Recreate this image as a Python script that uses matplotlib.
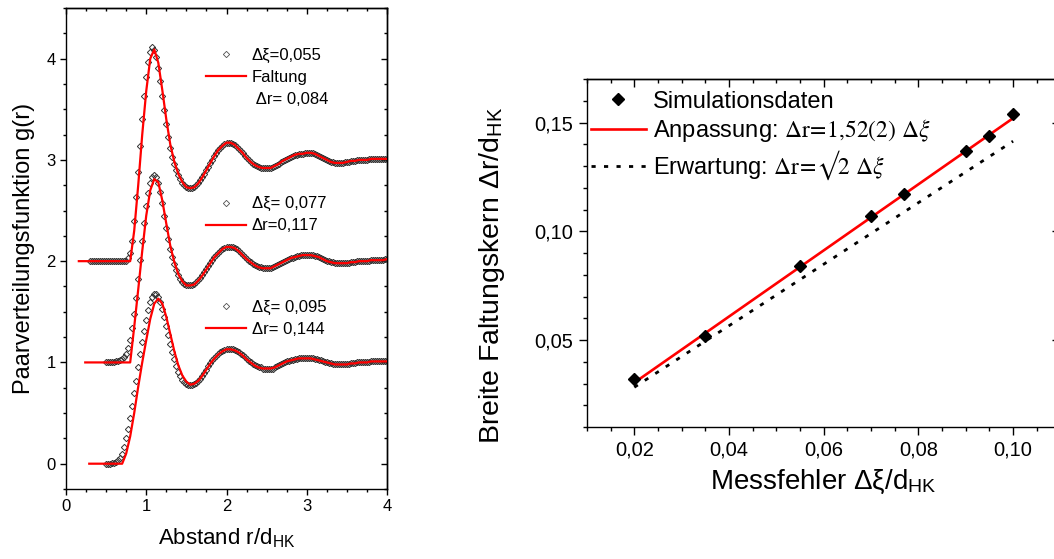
import numpy as np
import matplotlib
matplotlib.use("Agg")
import matplotlib.pyplot as plt
from matplotlib.ticker import MultipleLocator, FuncFormatter
from matplotlib.lines import Line2D
from matplotlib.legend import Legend

plt.rcParams['font.family'] = ['Liberation Sans', 'DejaVu Sans']
plt.rcParams['mathtext.fontset'] = 'stix'

# ---------------- left panel: pair distribution functions ----------------
# sampling grids of the simulation data (r / d_HK)
r_data_055 = np.round(np.arange(0.300, 4.0001, 0.025), 3)
r_data_077 = np.round(np.arange(0.500, 4.0001, 0.025), 3)
r_data_095 = np.round(np.arange(0.500, 4.0001, 0.025), 3)

g_data_055 = [0, 0, 0, 0, 0, 0, 0, 0, 0, 0, 0, 0, 0, 0, 0, 0, 0, 0,
              0.00, 0.03, 0.08, 0.20, 0.40, 0.63, 0.88, 1.14, 1.40, 1.63,
              1.82, 1.97, 2.07, 2.11, 2.09, 2.02, 1.91, 1.78, 1.63, 1.49,
              1.35, 1.23, 1.12, 1.03, 0.96, 0.90, 0.85, 0.81, 0.77, 0.75,
              0.73, 0.72, 0.72, 0.72, 0.73, 0.75, 0.77, 0.80, 0.83, 0.86,
              0.90, 0.93, 0.97, 1.00, 1.04, 1.07, 1.10, 1.12, 1.14, 1.16,
              1.17, 1.17, 1.17, 1.16, 1.15, 1.13, 1.11, 1.09, 1.07, 1.04,
              1.02, 1.00, 0.98, 0.96, 0.95, 0.94, 0.93, 0.92, 0.92, 0.92,
              0.92, 0.92, 0.92, 0.93, 0.94, 0.95, 0.96, 0.98, 0.99, 1.00,
              1.01, 1.02, 1.03, 1.04, 1.05, 1.05, 1.06, 1.06, 1.06, 1.07,
              1.07, 1.07, 1.07, 1.07, 1.06, 1.05, 1.04, 1.03, 1.02, 1.01,
              1.00, 0.99, 0.98, 0.98, 0.97, 0.97, 0.97, 0.97, 0.97, 0.98,
              0.98, 0.98, 0.99, 0.99, 0.99, 1.00, 1.00, 1.00, 1.00, 1.00,
              1.00, 1.01, 1.01, 1.01, 1.01, 1.01, 1.01, 1.01, 1.01, 1.01,
              1.01]

g_data_077 = [0, 0, 0, 0, 0, 0.01,
              0.01, 0.02, 0.03, 0.05, 0.08, 0.14, 0.22, 0.34, 0.48, 0.64,
              0.82, 1.01, 1.20, 1.38, 1.54, 1.67, 1.77, 1.83, 1.85, 1.83,
              1.77, 1.68, 1.57, 1.45, 1.33, 1.22, 1.12, 1.04, 0.97, 0.91,
              0.86, 0.82, 0.79, 0.77, 0.76, 0.76, 0.76, 0.76, 0.77, 0.79,
              0.81, 0.83, 0.86, 0.89, 0.92, 0.95, 0.98, 1.01, 1.04, 1.06,
              1.08, 1.10, 1.12, 1.13, 1.14, 1.14, 1.14, 1.14, 1.13, 1.12,
              1.10, 1.08, 1.06, 1.04, 1.02, 1.00, 0.99, 0.97, 0.96, 0.95,
              0.94, 0.94, 0.93, 0.93, 0.93, 0.93, 0.93, 0.94, 0.95, 0.96,
              0.97, 0.98, 0.99, 1.00, 1.01, 1.02, 1.03, 1.03, 1.04, 1.05,
              1.05, 1.06, 1.06, 1.06, 1.06, 1.06, 1.06, 1.06, 1.05, 1.05,
              1.04, 1.03, 1.02, 1.01, 1.00, 1.00, 0.99, 0.99, 0.98, 0.98,
              0.98, 0.98, 0.98, 0.98, 0.98, 0.98, 0.99, 0.99, 0.99, 1.00,
              1.00, 1.00, 1.00, 1.00, 1.00, 1.00, 1.01, 1.01, 1.01, 1.01,
              1.01, 1.01, 1.01, 1.02, 1.02]

g_data_095 = [0, 0, 0, 0.01, 0.01, 0.02,
              0.04, 0.06, 0.10, 0.16, 0.25, 0.34, 0.45, 0.57, 0.70, 0.82,
              0.95, 1.08, 1.20, 1.31, 1.42, 1.52, 1.60, 1.65, 1.68, 1.68,
              1.65, 1.60, 1.53, 1.45, 1.36, 1.27, 1.18, 1.10, 1.03, 0.96,
              0.91, 0.87, 0.83, 0.81, 0.79, 0.78, 0.78, 0.78, 0.79, 0.80,
              0.82, 0.84, 0.87, 0.90, 0.93, 0.96, 0.99, 1.02, 1.04, 1.06,
              1.08, 1.10, 1.11, 1.12, 1.13, 1.13, 1.13, 1.13, 1.12, 1.11,
              1.10, 1.08, 1.07, 1.05, 1.03, 1.01, 1.00, 0.98, 0.97, 0.96,
              0.95, 0.95, 0.94, 0.94, 0.94, 0.94, 0.94, 0.94, 0.95, 0.96,
              0.97, 0.98, 0.99, 1.00, 1.01, 1.01, 1.02, 1.02, 1.03, 1.03,
              1.04, 1.04, 1.04, 1.04, 1.04, 1.04, 1.04, 1.04, 1.03, 1.03,
              1.02, 1.02, 1.01, 1.00, 1.00, 0.99, 0.99, 0.98, 0.98, 0.98,
              0.98, 0.98, 0.98, 0.98, 0.98, 0.98, 0.99, 0.99, 0.99, 1.00,
              1.00, 1.00, 1.00, 1.00, 1.00, 1.00, 1.01, 1.01, 1.01, 1.01,
              1.01, 1.01, 1.01, 1.01, 1.01]

# convolution fits (red lines)
r_fit_055 = np.concatenate([[0.16], np.round(np.arange(0.80, 4.001, 0.05), 2)])
g_fit_055 = [0.0,
             0.00, 0.30, 0.75, 1.25, 1.68, 2.00, 2.09, 1.96, 1.69, 1.40,
             1.15, 0.98, 0.86, 0.78, 0.73, 0.72, 0.73, 0.77, 0.83, 0.90,
             0.97, 1.04, 1.10, 1.14, 1.17, 1.17, 1.15, 1.11, 1.07, 1.02,
             0.98, 0.95, 0.93, 0.92, 0.92, 0.92, 0.94, 0.96, 0.99, 1.01,
             1.03, 1.05, 1.06, 1.06, 1.07, 1.07, 1.06, 1.04, 1.02, 1.00,
             0.98, 0.97, 0.97, 0.97, 0.98, 0.99, 0.99, 1.00, 1.00, 1.00,
             1.01, 1.01, 1.01, 1.01, 1.01]

r_fit_077 = np.concatenate([[0.24], np.round(np.arange(0.80, 4.001, 0.05), 2)])
g_fit_077 = [0.0,
             0.00, 0.35, 0.72, 1.10, 1.45, 1.70, 1.81, 1.78, 1.60, 1.37,
             1.15, 0.99, 0.87, 0.80, 0.76, 0.76, 0.77, 0.81, 0.86, 0.92,
             0.98, 1.04, 1.08, 1.12, 1.14, 1.14, 1.13, 1.10, 1.06, 1.02,
             0.99, 0.96, 0.94, 0.93, 0.93, 0.93, 0.95, 0.97, 0.99, 1.01,
             1.03, 1.04, 1.05, 1.06, 1.06, 1.06, 1.05, 1.04, 1.02, 1.00,
             0.99, 0.98, 0.98, 0.98, 0.98, 0.99, 0.99, 1.00, 1.00, 1.00,
             1.01, 1.01, 1.01, 1.01, 1.02]

r_fit_095 = np.concatenate([[0.29], np.round(np.arange(0.70, 4.001, 0.05), 2)])
g_fit_095 = [0.0,
             0.00, 0.10,
             0.27, 0.50, 0.76, 1.00, 1.22, 1.43, 1.58, 1.63, 1.58, 1.45,
             1.28, 1.11, 0.97, 0.87, 0.81, 0.78, 0.79, 0.82, 0.87, 0.93,
             0.99, 1.04, 1.08, 1.11, 1.13, 1.13, 1.12, 1.10, 1.07, 1.03,
             1.00, 0.97, 0.95, 0.94, 0.94, 0.94, 0.95, 0.97, 0.99, 1.01,
             1.02, 1.03, 1.04, 1.04, 1.04, 1.04, 1.03, 1.02, 1.01, 1.00,
             0.99, 0.98, 0.98, 0.98, 0.98, 0.99, 0.99, 1.00, 1.00, 1.00,
             1.01, 1.01, 1.01, 1.01, 1.01]

offsets = [2, 1, 0]
data_labels = ["\u0394\u03be=0,055", "\u0394\u03be= 0,077", "\u0394\u03be= 0,095"]
fit_labels = [["Faltung", " \u0394r= 0,084"], ["\u0394r=0,117"], ["\u0394r= 0,144"]]

# ---------------- right panel: kernel width vs measurement error ----------------
dxi = [0.02, 0.035, 0.055, 0.07, 0.077, 0.09, 0.095, 0.10]
dr = [0.032, 0.052, 0.084, 0.107, 0.117, 0.137, 0.144, 0.154]
fit_slope = 1.52
expected_slope = np.sqrt(2)
line_range = [0.02, 0.10]

# ---------------- figure ----------------
fig = plt.figure(figsize=(10.54, 5.59), dpi=100)
axL = fig.add_axes([0.0626, 0.1252, 0.3046, 0.8605])
axR = fig.add_axes([0.5569, 0.2361, 0.4492, 0.6225])


def style_axes(ax, xmaj, xmin, ymaj, ymin, fmt, labelsize, majlen, minlen, pad):
    ax.xaxis.set_major_locator(MultipleLocator(xmaj))
    ax.xaxis.set_minor_locator(MultipleLocator(xmin))
    ax.yaxis.set_major_locator(MultipleLocator(ymaj))
    ax.yaxis.set_minor_locator(MultipleLocator(ymin))
    ax.xaxis.set_major_formatter(FuncFormatter(fmt))
    ax.yaxis.set_major_formatter(FuncFormatter(fmt))
    ax.tick_params(which='both', direction='out', top=False, right=False,
                   labelsize=labelsize, width=1.0, pad=pad)
    ax.tick_params(which='major', length=majlen)
    ax.tick_params(which='minor', length=minlen)
    for sp in ax.spines.values():
        sp.set_linewidth(1.0)
    sx = ax.secondary_xaxis('top')
    sx.xaxis.set_major_locator(MultipleLocator(xmaj))
    sx.xaxis.set_minor_locator(MultipleLocator(xmin))
    sx.tick_params(which='both', direction='in', labeltop=False, width=1.0)
    sx.tick_params(which='major', length=majlen)
    sx.tick_params(which='minor', length=minlen)
    sx.spines['top'].set_linewidth(1.0)
    sy = ax.secondary_yaxis('right')
    sy.yaxis.set_major_locator(MultipleLocator(ymaj))
    sy.yaxis.set_minor_locator(MultipleLocator(ymin))
    sy.tick_params(which='both', direction='in', labelright=False, width=1.0)
    sy.tick_params(which='major', length=majlen)
    sy.tick_params(which='minor', length=minlen)
    sy.spines['right'].set_linewidth(1.0)


marker_kw = dict(linestyle='none', marker='D', ms=3.2, mfc='none',
                 mec='#333333', mew=0.7)

# left panel curves
series = [(r_data_055, g_data_055, r_fit_055, g_fit_055),
          (r_data_077, g_data_077, r_fit_077, g_fit_077),
          (r_data_095, g_data_095, r_fit_095, g_fit_095)]
for (rd, gd, rf, gf), off in zip(series, offsets):
    axL.plot(rd, np.asarray(gd) + off, zorder=2, **marker_kw)
    axL.plot(rf, np.asarray(gf) + off, color='#ff0000', lw=1.6, zorder=3)

axL.set_xlim(0, 4)
axL.set_ylim(-0.25, 4.5)
style_axes(axL, 1, 0.25, 1, 0.25, lambda v, p: f"{v:g}", 12, 4.5, 2.5, 3)
axL.set_xlabel("Abstand r/d$_\\mathregular{HK}$", fontsize=16, labelpad=8)
axL.set_ylabel("Paarverteilungsfunktion g(r)", fontsize=17, labelpad=8)

# legends inside left panel
leg_marker_kw = dict(linestyle='none', marker='D', ms=3.2, mfc='none',
                     mec='#505050', mew=0.6)
leg_tops = [0.9177, 0.6083, 0.3931]
for i in range(3):
    handles = [Line2D([], [], **leg_marker_kw),
               Line2D([], [], color='#ff0000', lw=1.6)]
    labels = [data_labels[i], fit_labels[i][0]]
    for extra in fit_labels[i][1:]:
        handles.append(Line2D([], [], linestyle='none'))
        labels.append(extra)
    leg = Legend(axL, handles, labels, loc='upper left',
                 bbox_to_anchor=(0.435, leg_tops[i]), frameon=False,
                 fontsize=12, handlelength=2.4, handletextpad=0.36,
                 labelspacing=0.42, borderpad=0, borderaxespad=0)
    axL.add_artist(leg)

# right panel
fmt_comma = lambda v, p: f"{v:.2f}".replace('.', ',')
xs = np.array(line_range)
axR.plot(xs, fit_slope * xs, color='#ff0000', lw=1.9, zorder=2,
         label="Anpassung: $\\Delta\\mathrm{r}\\!=\\!1{,}52(2)\\ \\Delta\\xi$")
axR.plot(xs, expected_slope * xs, color='black', lw=2.0, zorder=2,
         dashes=(1.5, 3.0),
         label="Erwartung: $\\Delta\\mathrm{r}\\!=\\!\u221a\\mathrm{2}\\ \\Delta\\xi$")
axR.plot(dxi, dr, linestyle='none', marker='D', ms=6.5, color='black', zorder=3,
         label="Simulationsdaten")
axR.set_xlim(0.01, 0.11)
axR.set_ylim(0.01, 0.17)
style_axes(axR, 0.02, 0.005, 0.05, 0.01, fmt_comma, 14.5, 6, 3, 4)
axR.set_xlabel("Messfehler \u0394\u03be/d$_\\mathregular{HK}$", fontsize=20, labelpad=6)
axR.set_ylabel("Breite Faltungskern \u0394r/d$_\\mathregular{HK}$", fontsize=20.5)
axR.yaxis.set_label_coords(-0.169, 0.437)

h, l = axR.get_legend_handles_labels()
order = [2, 0, 1]
axR.legend([h[k] for k in order], [l[k] for k in order], loc='upper left',
           bbox_to_anchor=(0.0084, 0.967), frameon=False, fontsize=17,
           handlelength=2.33, handletextpad=0.3, labelspacing=0.2,
           borderpad=0, borderaxespad=0)

fig.savefig("out.png", dpi=100)
